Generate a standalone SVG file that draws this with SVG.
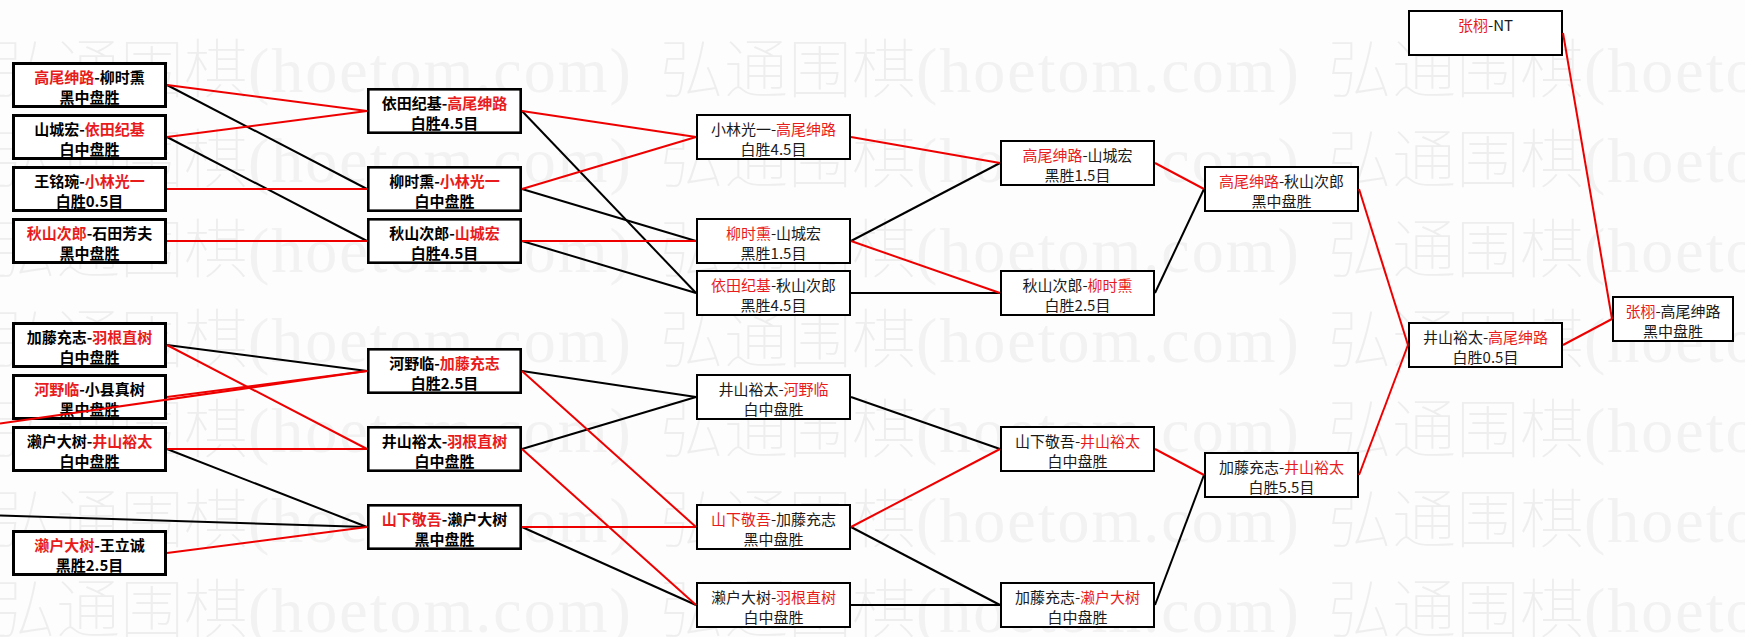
<svg xmlns="http://www.w3.org/2000/svg" width="1745" height="637" viewBox="0 0 1745 637">
<style>
.wm text{fill:#eeeeee;font-family:"Noto Sans CJK SC",sans-serif;font-size:64px;font-weight:100}
.wm .lat{font-family:"Liberation Serif",serif;letter-spacing:2px;fill:#f2f2f2}
.node rect{fill:#fff;stroke:#000}
.c1 rect{stroke-width:3}
.c2 rect{stroke-width:2.6}
.c3 rect{stroke-width:2}
.node text{font-family:"Noto Sans CJK SC","Liberation Sans",sans-serif;font-size:15px;text-anchor:middle;fill:#1a1a1a}
.c1 text,.c2 text{font-weight:600;fill:#000}
.node .r{fill:#e81c1c}
.conn line{stroke-width:2;fill:none}
.conn .k{stroke:#000}
.conn .rd{stroke:#ee0000}
</style>
<rect width="1745" height="637" fill="#fdfdfd"/>
<g class="wm">
<text x="-8" y="92">弘通围棋<tspan class="lat">(hoetom.com)</tspan></text>
<text x="660" y="92">弘通围棋<tspan class="lat">(hoetom.com)</tspan></text>
<text x="1328" y="92">弘通围棋<tspan class="lat">(hoetom.com)</tspan></text>
<text x="-8" y="182">弘通围棋<tspan class="lat">(hoetom.com)</tspan></text>
<text x="660" y="182">弘通围棋<tspan class="lat">(hoetom.com)</tspan></text>
<text x="1328" y="182">弘通围棋<tspan class="lat">(hoetom.com)</tspan></text>
<text x="-8" y="272">弘通围棋<tspan class="lat">(hoetom.com)</tspan></text>
<text x="660" y="272">弘通围棋<tspan class="lat">(hoetom.com)</tspan></text>
<text x="1328" y="272">弘通围棋<tspan class="lat">(hoetom.com)</tspan></text>
<text x="-8" y="362">弘通围棋<tspan class="lat">(hoetom.com)</tspan></text>
<text x="660" y="362">弘通围棋<tspan class="lat">(hoetom.com)</tspan></text>
<text x="1328" y="362">弘通围棋<tspan class="lat">(hoetom.com)</tspan></text>
<text x="-8" y="452">弘通围棋<tspan class="lat">(hoetom.com)</tspan></text>
<text x="660" y="452">弘通围棋<tspan class="lat">(hoetom.com)</tspan></text>
<text x="1328" y="452">弘通围棋<tspan class="lat">(hoetom.com)</tspan></text>
<text x="-8" y="542">弘通围棋<tspan class="lat">(hoetom.com)</tspan></text>
<text x="660" y="542">弘通围棋<tspan class="lat">(hoetom.com)</tspan></text>
<text x="1328" y="542">弘通围棋<tspan class="lat">(hoetom.com)</tspan></text>
<text x="-8" y="632">弘通围棋<tspan class="lat">(hoetom.com)</tspan></text>
<text x="660" y="632">弘通围棋<tspan class="lat">(hoetom.com)</tspan></text>
<text x="1328" y="632">弘通围棋<tspan class="lat">(hoetom.com)</tspan></text>
</g>

<g id="n1" class="node c1"><rect x="13.5" y="63.5" width="152" height="43"/><text x="89.5" y="82.5"><tspan class="r">高尾绅路</tspan>-柳时熏</text><text x="89.5" y="103">黑中盘胜</text></g>
<g id="n2" class="node c1"><rect x="13.5" y="115.5" width="152" height="43"/><text x="89.5" y="134.5">山城宏-<tspan class="r">依田纪基</tspan></text><text x="89.5" y="155">白中盘胜</text></g>
<g id="n3" class="node c1"><rect x="13.5" y="167.5" width="152" height="43"/><text x="89.5" y="186.5">王铭琬-<tspan class="r">小林光一</tspan></text><text x="89.5" y="207">白胜0.5目</text></g>
<g id="n4" class="node c1"><rect x="13.5" y="219.5" width="152" height="43"/><text x="89.5" y="238.5"><tspan class="r">秋山次郎</tspan>-石田芳夫</text><text x="89.5" y="259">黑中盘胜</text></g>
<g id="n5" class="node c1"><rect x="13.5" y="323.5" width="152" height="43"/><text x="89.5" y="342.5">加藤充志-<tspan class="r">羽根直树</tspan></text><text x="89.5" y="363">白中盘胜</text></g>
<g id="n6" class="node c1"><rect x="13.5" y="375.5" width="152" height="43"/><text x="89.5" y="394.5"><tspan class="r">河野临</tspan>-小县真树</text><text x="89.5" y="415">黑中盘胜</text></g>
<g id="n7" class="node c1"><rect x="13.5" y="427.5" width="152" height="43"/><text x="89.5" y="446.5">濑户大树-<tspan class="r">井山裕太</tspan></text><text x="89.5" y="467">白中盘胜</text></g>
<g id="n8" class="node c1"><rect x="13.5" y="531.5" width="152" height="43"/><text x="89.5" y="550.5"><tspan class="r">濑户大树</tspan>-王立诚</text><text x="89.5" y="571">黑胜2.5目</text></g>

<g id="r2a" class="node c2"><rect x="368.3" y="89.3" width="152.4" height="43.4"/><text x="444.5" y="108.5">依田纪基-<tspan class="r">高尾绅路</tspan></text><text x="444.5" y="129">白胜4.5目</text></g>
<g id="r2b" class="node c2"><rect x="368.3" y="167.3" width="152.4" height="43.4"/><text x="444.5" y="186.5">柳时熏-<tspan class="r">小林光一</tspan></text><text x="444.5" y="207">白中盘胜</text></g>
<g id="r2c" class="node c2"><rect x="368.3" y="219.3" width="152.4" height="43.4"/><text x="444.5" y="238.5">秋山次郎-<tspan class="r">山城宏</tspan></text><text x="444.5" y="259">白胜4.5目</text></g>
<g id="r2d" class="node c2"><rect x="368.3" y="349.3" width="152.4" height="43.4"/><text x="444.5" y="368.5">河野临-<tspan class="r">加藤充志</tspan></text><text x="444.5" y="389">白胜2.5目</text></g>
<g id="r2e" class="node c2"><rect x="368.3" y="427.3" width="152.4" height="43.4"/><text x="444.5" y="446.5">井山裕太-<tspan class="r">羽根直树</tspan></text><text x="444.5" y="467">白中盘胜</text></g>
<g id="r2f" class="node c2"><rect x="368.3" y="505.3" width="152.4" height="43.4"/><text x="444.5" y="524.5"><tspan class="r">山下敬吾</tspan>-濑户大树</text><text x="444.5" y="545">黑中盘胜</text></g>

<g id="r3a" class="node c3"><rect x="697" y="115" width="153" height="44"/><text x="773.5" y="134.5">小林光一-<tspan class="r">高尾绅路</tspan></text><text x="773.5" y="155">白胜4.5目</text></g>
<g id="r3b" class="node c3"><rect x="697" y="219" width="153" height="44"/><text x="773.5" y="238.5"><tspan class="r">柳时熏</tspan>-山城宏</text><text x="773.5" y="259">黑胜1.5目</text></g>
<g id="r3c" class="node c3"><rect x="697" y="271" width="153" height="44"/><text x="773.5" y="290.5"><tspan class="r">依田纪基</tspan>-秋山次郎</text><text x="773.5" y="311">黑胜4.5目</text></g>
<g id="r3d" class="node c3"><rect x="697" y="375" width="153" height="44"/><text x="773.5" y="394.5">井山裕太-<tspan class="r">河野临</tspan></text><text x="773.5" y="415">白中盘胜</text></g>
<g id="r3e" class="node c3"><rect x="697" y="505" width="153" height="44"/><text x="773.5" y="524.5"><tspan class="r">山下敬吾</tspan>-加藤充志</text><text x="773.5" y="545">黑中盘胜</text></g>
<g id="r3f" class="node c3"><rect x="697" y="583" width="153" height="44"/><text x="773.5" y="602.5">濑户大树-<tspan class="r">羽根直树</tspan></text><text x="773.5" y="623">白中盘胜</text></g>

<g id="r4a" class="node c3"><rect x="1001" y="141" width="153" height="44"/><text x="1077.5" y="160.5"><tspan class="r">高尾绅路</tspan>-山城宏</text><text x="1077.5" y="181">黑胜1.5目</text></g>
<g id="r4b" class="node c3"><rect x="1001" y="271" width="153" height="44"/><text x="1077.5" y="290.5">秋山次郎-<tspan class="r">柳时熏</tspan></text><text x="1077.5" y="311">白胜2.5目</text></g>
<g id="r4c" class="node c3"><rect x="1001" y="427" width="153" height="44"/><text x="1077.5" y="446.5">山下敬吾-<tspan class="r">井山裕太</tspan></text><text x="1077.5" y="467">白中盘胜</text></g>
<g id="r4d" class="node c3"><rect x="1001" y="583" width="153" height="44"/><text x="1077.5" y="602.5">加藤充志-<tspan class="r">濑户大树</tspan></text><text x="1077.5" y="623">白中盘胜</text></g>

<g id="r5a" class="node c3"><rect x="1205" y="167" width="153" height="44"/><text x="1281.5" y="186.5"><tspan class="r">高尾绅路</tspan>-秋山次郎</text><text x="1281.5" y="207">黑中盘胜</text></g>
<g id="r5b" class="node c3"><rect x="1205" y="453" width="153" height="44"/><text x="1281.5" y="472.5">加藤充志-<tspan class="r">井山裕太</tspan></text><text x="1281.5" y="493">白胜5.5目</text></g>

<g id="r6" class="node c3"><rect x="1409" y="323" width="153" height="44"/><text x="1485.5" y="342.5">井山裕太-<tspan class="r">高尾绅路</tspan></text><text x="1485.5" y="363">白胜0.5目</text></g>
<g id="top" class="node c3"><rect x="1409" y="11" width="153" height="44"/><text x="1485.5" y="30.5"><tspan class="r">张栩</tspan>-NT</text></g>
<g id="final" class="node c3"><rect x="1613" y="297" width="120" height="44"/><text x="1673" y="316.5"><tspan class="r">张栩</tspan>-高尾绅路</text><text x="1673" y="337">黑中盘胜</text></g>

<g id="connectors" class="conn">
<line class="k" x1="167" y1="85" x2="367" y2="189"/>
<line class="k" x1="167" y1="137" x2="367" y2="241"/>
<line class="k" x1="167" y1="345" x2="367" y2="371"/>
<line class="k" x1="167" y1="449" x2="367" y2="527"/>
<line class="k" x1="0" y1="515.5" x2="367" y2="527"/>
<line class="k" x1="522" y1="111" x2="696" y2="293"/>
<line class="k" x1="522" y1="189" x2="696" y2="241"/>
<line class="k" x1="522" y1="241" x2="696" y2="293"/>
<line class="k" x1="522" y1="371" x2="696" y2="397"/>
<line class="k" x1="522" y1="449" x2="696" y2="397"/>
<line class="k" x1="522" y1="527" x2="696" y2="605"/>
<line class="k" x1="851" y1="241" x2="1000" y2="163"/>
<line class="k" x1="851" y1="293" x2="1000" y2="293"/>
<line class="k" x1="851" y1="397" x2="1000" y2="449"/>
<line class="k" x1="851" y1="527" x2="1000" y2="605"/>
<line class="k" x1="851" y1="605" x2="1000" y2="605"/>
<line class="k" x1="1155" y1="293" x2="1204" y2="189"/>
<line class="k" x1="1155" y1="605" x2="1204" y2="475"/>
<line class="rd" x1="167" y1="85" x2="367" y2="111"/>
<line class="rd" x1="167" y1="137" x2="367" y2="111"/>
<line class="rd" x1="167" y1="189" x2="367" y2="189"/>
<line class="rd" x1="167" y1="241" x2="367" y2="241"/>
<line class="rd" x1="167" y1="345" x2="367" y2="449"/>
<line class="rd" x1="167" y1="397" x2="367" y2="371"/>
<line class="rd" x1="0" y1="423.5" x2="367" y2="371"/>
<line class="rd" x1="167" y1="449" x2="367" y2="449"/>
<line class="rd" x1="167" y1="553" x2="367" y2="527"/>
<line class="rd" x1="522" y1="111" x2="696" y2="137"/>
<line class="rd" x1="522" y1="189" x2="696" y2="137"/>
<line class="rd" x1="522" y1="241" x2="696" y2="241"/>
<line class="rd" x1="522" y1="371" x2="696" y2="527"/>
<line class="rd" x1="522" y1="449" x2="696" y2="605"/>
<line class="rd" x1="522" y1="527" x2="696" y2="527"/>
<line class="rd" x1="851" y1="137" x2="1000" y2="163"/>
<line class="rd" x1="851" y1="241" x2="1000" y2="293"/>
<line class="rd" x1="851" y1="527" x2="1000" y2="449"/>
<line class="rd" x1="1155" y1="163" x2="1204" y2="189"/>
<line class="rd" x1="1155" y1="449" x2="1204" y2="475"/>
<line class="rd" x1="1359" y1="189" x2="1408" y2="345"/>
<line class="rd" x1="1359" y1="475" x2="1408" y2="345"/>
<line class="rd" x1="1563" y1="345" x2="1612" y2="319"/>
<line class="rd" x1="1563" y1="33" x2="1612" y2="319"/>
</g>
</svg>
